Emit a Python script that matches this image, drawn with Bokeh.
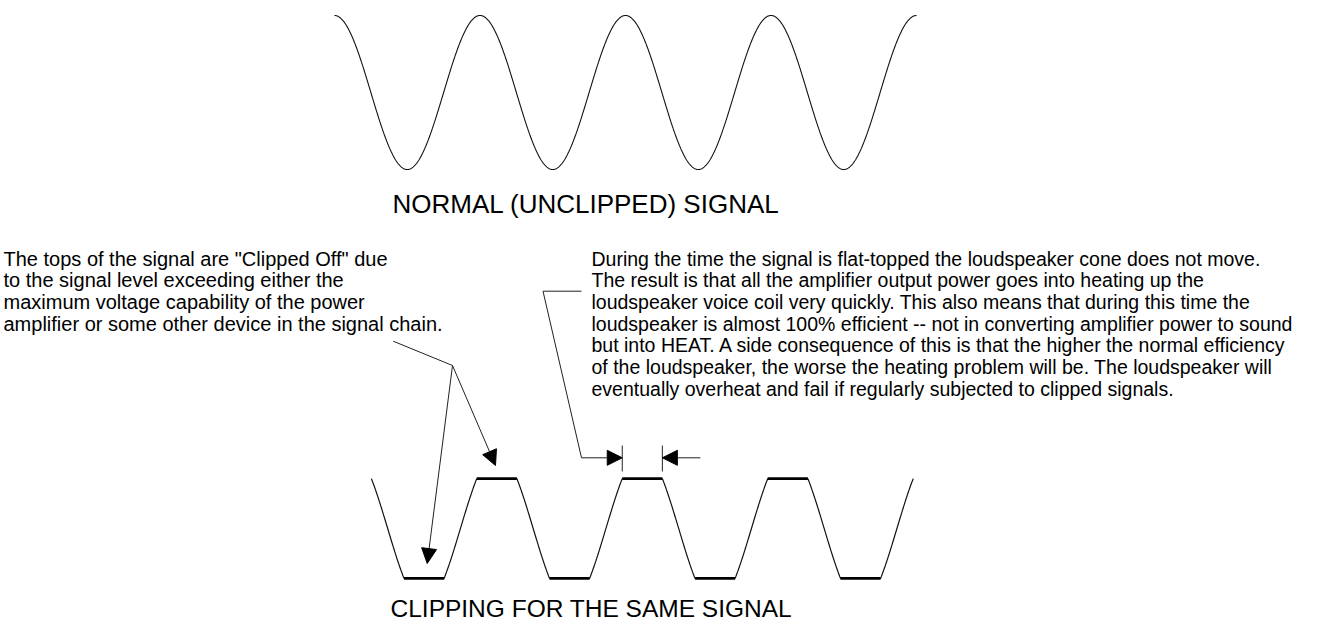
import numpy as np
from bokeh.plotting import figure
from bokeh.models import Range1d, Arrow, NormalHead
from bokeh.core.properties import value
from bokeh.embed import file_html
from bokeh.resources import INLINE

# ---------------- data ----------------
cycles = 4                 # number of signal periods shown
clip_level = 0.648         # clipping threshold (fraction of peak amplitude)
clip_phase = 0.1155        # phase offset (in periods) of the clipped trace

title_top = "NORMAL (UNCLIPPED) SIGNAL"
title_bottom = "CLIPPING FOR THE SAME SIGNAL"
left_note = [
    "The tops of the signal are \"Clipped Off\" due",
    "to the signal level exceeding either the",
    "maximum voltage capability of the power",
    "amplifier or some other device in the signal chain.",
]
right_note = [
    "During the time the signal is flat-topped the loudspeaker cone does not move.",
    "The result is that all the amplifier output power goes into heating up the",
    "loudspeaker voice coil very quickly. This also means that during this time the",
    "loudspeaker is almost 100% efficient -- not in converting amplifier power to sound",
    "but into HEAT.  A side consequence of this is that the higher the normal efficiency",
    "of the loudspeaker, the worse the heating problem will be. The loudspeaker will",
    "eventually overheat and fail if regularly subjected to clipped signals.",
]

# ---------------- signal traces ----------------
t = np.linspace(0, cycles, 1201)
v_sine = np.cos(2 * np.pi * t)

w = np.arccos(clip_level) / (2 * np.pi)          # half-width of a flat (periods)
t_c = np.linspace(clip_phase + w, clip_phase + cycles - w, 1201)
v_clip = np.clip(np.cos(2 * np.pi * (t_c - clip_phase)), -clip_level, clip_level)
top_centers = [clip_phase + k for k in range(1, cycles)]
bot_centers = [clip_phase + 0.5 + k for k in range(cycles)]

# ---------------- layout (picture pixels) ----------------
W, H = 1302, 623
X0, PER = 334.0, 145.5      # x of t=0 and pixels per period
YT, YB, AMP = 92.0, 528.0, 77.0

p = figure(width=W, height=H, x_range=Range1d(0, W), y_range=Range1d(H, 0),
           output_backend="svg", toolbar_location=None, min_border=0,
           x_axis_location=None, y_axis_location=None)
p.grid.visible = False
p.outline_line_color = None
p.background_fill_color = "white"
p.border_fill_color = "white"

p.extra_x_ranges = {"t": Range1d((0 - X0) / PER, (W - X0) / PER)}
p.extra_y_ranges = {
    "vtop": Range1d((YT - H) / AMP, YT / AMP),
    "vbot": Range1d((YB - H) / AMP, YB / AMP),
}

p.line(t, v_sine, x_range_name="t", y_range_name="vtop", line_color="#111111", line_width=1.1)
p.line(t_c, v_clip, x_range_name="t", y_range_name="vbot", line_color="#111111", line_width=1.2)
p.segment(x0=[c - w for c in top_centers], x1=[c + w for c in top_centers],
          y0=[clip_level] * len(top_centers), y1=[clip_level] * len(top_centers),
          x_range_name="t", y_range_name="vbot", line_color="black", line_width=2.6)
p.segment(x0=[c - w for c in bot_centers], x1=[c + w for c in bot_centers],
          y0=[-clip_level] * len(bot_centers), y1=[-clip_level] * len(bot_centers),
          x_range_name="t", y_range_name="vbot", line_color="black", line_width=2.6)

font = value("Liberation Sans")
MID = 0.35  # em distance from baseline to the middle anchor


def put_lines(x, baselines, lines, size):
    p.text(x=[x] * len(lines), y=[b - MID * size for b in baselines], text=lines,
           text_font=font, text_font_size=f"{size}px", text_baseline="middle",
           text_align="left", text_color="black")


put_lines(392, [213], [title_top], 26)
put_lines(390, [617], [title_bottom], 24.5)
LH = 21.67
put_lines(3, [265 + i * LH for i in range(len(left_note))], left_note, 20)
put_lines(591, [265 + i * LH for i in range(len(right_note))], right_note, 19.5)

# leader lines and arrows
lc = "#222222"
head = lambda: NormalHead(size=15, fill_color="black", line_color="black", line_width=1)
jx, jy = 452, 365
p.line([392.7, jx], [340.7, jy], line_color=lc, line_width=1)
p.add_layout(Arrow(end=head(), x_start=jx, y_start=jy, x_end=426.7, y_end=563,
                   line_color=lc, line_width=1))
p.add_layout(Arrow(end=head(), x_start=jx, y_start=jy, x_end=495, y_end=465,
                   line_color=lc, line_width=1))

# flat-top width markers at the second clipped crest
fl = X0 + PER * (top_centers[1] - w)
fr = X0 + PER * (top_centers[1] + w)
ay = 457.3
p.line([581, 542.5, 581], [290.7, 290.7, ay], line_color=lc, line_width=1)
p.add_layout(Arrow(end=head(), x_start=581, y_start=ay, x_end=fl, y_end=ay,
                   line_color=lc, line_width=1))
p.add_layout(Arrow(end=head(), x_start=fr + 38, y_start=ay, x_end=fr, y_end=ay,
                   line_color=lc, line_width=1))
p.segment(x0=[fl, fr], x1=[fl, fr], y0=[445, 445], y1=[471, 471],
          line_color=lc, line_width=1)

open("out.html", "w").write(file_html(p, INLINE))
